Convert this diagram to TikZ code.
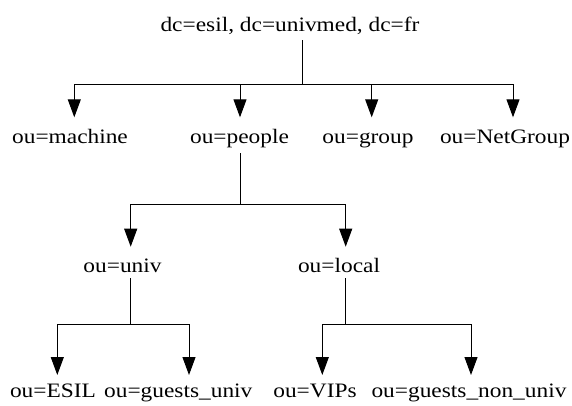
\documentclass[tikz,border=0pt]{standalone}
\usepackage{fontspec}
\setmainfont{Liberation Serif}[FakeStretch=1.14]
\usetikzlibrary{arrows.meta}

\begin{document}
\begin{tikzpicture}
[
    x=1pt, y=-1pt,
    line width=1pt,
    entry/.style={anchor=base, inner sep=5pt, font=\fontsize{20.5}{23}\selectfont},
    link/.style={-{Triangle[length=18pt,width=13pt]}},
]
\useasboundingbox (0,0) rectangle (572,405);

% directory entries
\node [entry] (root) at (290,31.7) {dc=esil, dc=univmed, dc=fr};
\node [entry] (machine) at (70,143.3) {ou=machine};
\node [entry] (people) at (239.5,143.3) {ou=people};
\node [entry] (group) at (368,143.3) {ou=group};
\node [entry] (netgroup) at (505,143.3) {ou=NetGroup};
\node [entry] (univ) at (122.5,272.3) {ou=univ};
\node [entry] (local) at (339,272.3) {ou=local};
\node [entry] (esil) at (53,397.7) {ou=ESIL};
\node [entry] (guestsuniv) at (178.3,397.7) {ou=guests\_univ};
\node [entry] (vips) at (315,397.7) {ou=VIPs};
\node [entry] (guestsnonuniv) at (469,397.7) {ou=guests\_non\_univ};

% branch points and arrow ends
\coordinate (root-split) at (302.7,84.7);
\coordinate (machine-in) at (74.3,117.3);
\coordinate (people-in) at (240,117.3);
\coordinate (group-in) at (371.7,117.3);
\coordinate (netgroup-in) at (513,117.3);
\coordinate (people-split) at (240,204.3);
\coordinate (univ-in) at (130.7,246.7);
\coordinate (local-in) at (345.7,246.7);
\coordinate (univ-split) at (130.7,324.3);
\coordinate (local-split) at (345.7,324.3);
\coordinate (esil-in) at (57.3,375);
\coordinate (guestsuniv-in) at (189,375);
\coordinate (vips-in) at (322.3,375);
\coordinate (guestsnonuniv-in) at (471,375);

% tree links
\draw (root.south -| root-split) -- (root-split);
\foreach \n in {machine, people, group, netgroup}
    \draw [link] (root-split) -| (\n-in);
\draw (people.south -| people-split) -- (people-split);
\foreach \n in {univ, local}
    \draw [link] (people-split) -| (\n-in);
\draw (univ.south -| univ-split) -- (univ-split);
\foreach \n in {esil, guestsuniv}
    \draw [link] (univ-split) -| (\n-in);
\draw (local.south -| local-split) -- (local-split);
\foreach \n in {vips, guestsnonuniv}
    \draw [link] (local-split) -| (\n-in);
\end{tikzpicture}
\end{document}
